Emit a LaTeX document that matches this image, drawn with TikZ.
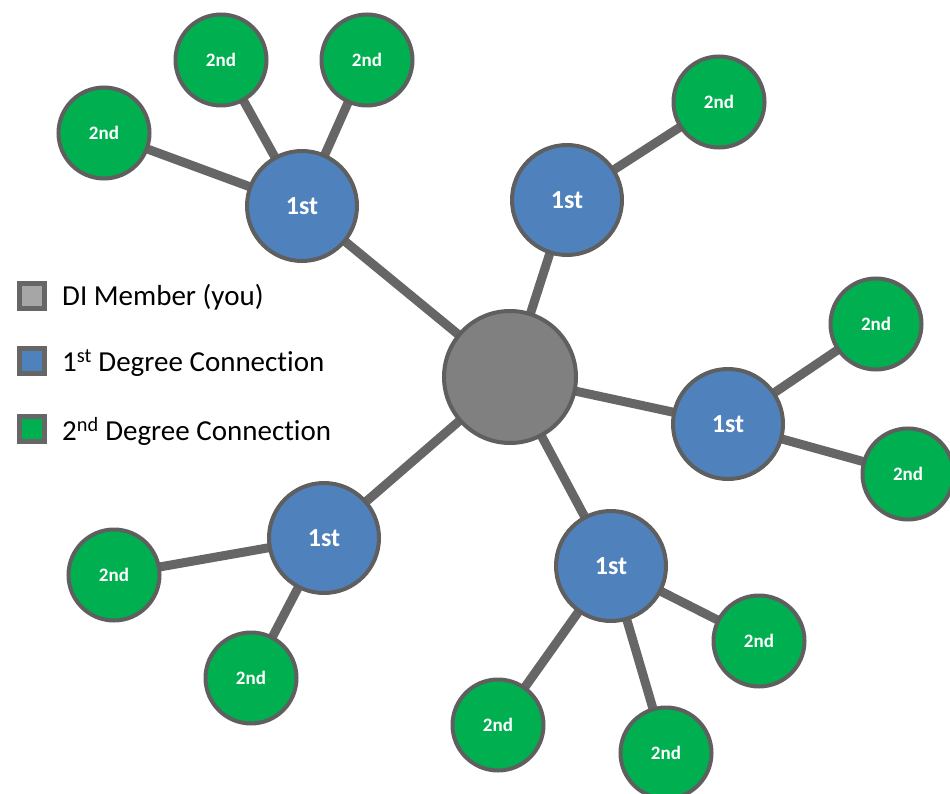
\documentclass[tikz,border=0pt]{standalone}
\usepackage{fontspec}
\setmainfont[Ligatures=NoCommon]{Carlito}
\usetikzlibrary{backgrounds}
\definecolor{edgegray}{HTML}{666666}
\definecolor{rimgray}{HTML}{5F5F5F}
\definecolor{youfill}{HTML}{808080}
\definecolor{firstfill}{HTML}{4F81BD}
\definecolor{secondfill}{HTML}{00B050}
\definecolor{legfill}{HTML}{A6A6A6}
\begin{document}
\begin{tikzpicture}[x=1pt,y=-1pt,
  base/.style={circle,draw=rimgray,line width=4pt,inner sep=0pt,text=white,font=\bfseries},
  younode/.style={base,fill=youfill,minimum size=132pt},
  firstnode/.style={base,fill=firstfill,minimum size=110pt,font=\bfseries\fontsize{26}{30}\selectfont},
  secondnode/.style={base,fill=secondfill,minimum size=91pt,font=\bfseries\fontsize{19}{22}\selectfont},
  link/.style={draw=edgegray,line width=9pt},
  legbox/.style={draw=edgegray,line width=4.5pt,minimum size=25pt,inner sep=0pt},
  legtext/.style={anchor=west,inner sep=0pt,font=\fontsize{29}{34}\selectfont}]
\useasboundingbox (0,0) rectangle (950,794);
\clip (0,0) rectangle (950,794);
% central node
\node[younode] (you) at (510,377) {};
% first degree
\node[firstnode] (fa) at (302,206) {1st};
\node[firstnode] (fb) at (567,200) {1st};
\node[firstnode] (fc) at (728,424) {1st};
\node[firstnode] (fd) at (324,538) {1st};
\node[firstnode] (fe) at (611,566) {1st};
% second degree
\node[secondnode] (sa1) at (221,60) {2nd};
\node[secondnode] (sa2) at (367,60) {2nd};
\node[secondnode] (sa3) at (104,133) {2nd};
\node[secondnode] (sb1) at (719,102) {2nd};
\node[secondnode] (sc1) at (876,324) {2nd};
\node[secondnode] (sc2) at (908,474) {2nd};
\node[secondnode] (sd1) at (114,575) {2nd};
\node[secondnode] (sd2) at (251,678) {2nd};
\node[secondnode] (se1) at (759,641) {2nd};
\node[secondnode] (se2) at (498,725) {2nd};
\node[secondnode] (se3) at (666,753) {2nd};
\begin{pgfonlayer}{background}
\foreach \a/\b in {you/fa,you/fb,you/fc,you/fd,you/fe,
  fa/sa1,fa/sa2,fa/sa3,fb/sb1,fc/sc1,fc/sc2,fd/sd1,fd/sd2,fe/se1,fe/se2,fe/se3}
  \draw[link] (\a.center) -- (\b.center);
\end{pgfonlayer}
% legend
\node[legbox,fill=legfill] (l1) at (32,296) {};
\node[legbox,fill=firstfill] (l2) at (32,361) {};
\node[legbox,fill=secondfill] (l3) at (32,429) {};
\node[legtext] (t1) at (62,297) {DI Member (you)};
\node[legtext] (t2) at (62,363) {1\textsuperscript{st} Degree Connection};
\node[legtext] (t3) at (62,431) {2\textsuperscript{nd} Degree Connection};
\end{tikzpicture}
\end{document}
